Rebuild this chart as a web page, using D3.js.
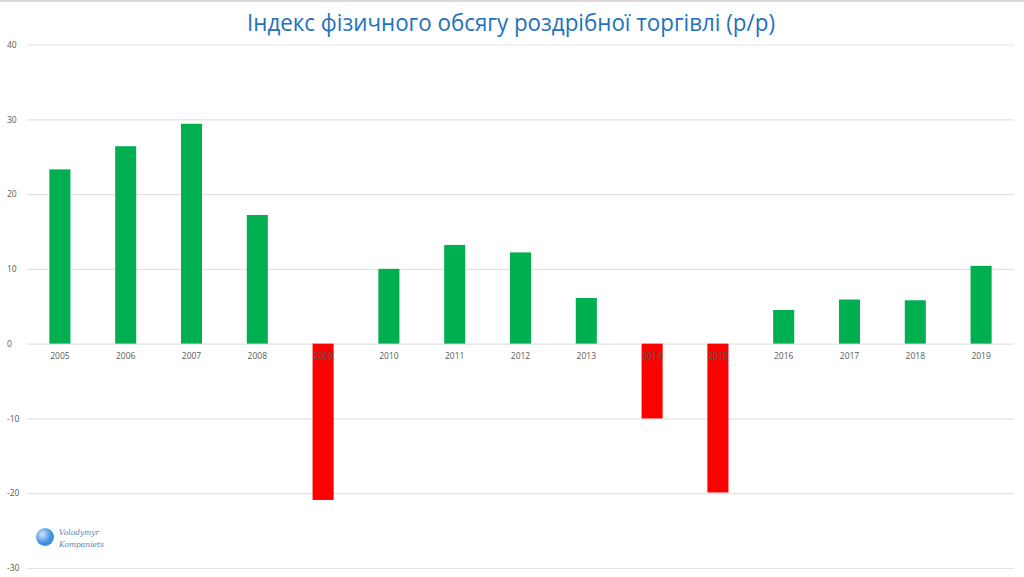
<!DOCTYPE html>
<html><head><meta charset="utf-8">
<script src="https://cdn.jsdelivr.net/npm/d3@7"></script>
<style>body{margin:0;background:#fff}svg{display:block}</style>
</head><body>
<script>
const years = ["2005","2006","2007","2008","2009","2010","2011","2012","2013","2014","2015","2016","2017","2018","2019"];
const values = [23.3,26.4,29.4,17.2,-20.9,10.0,13.2,12.2,6.1,-10.0,-19.9,4.5,5.9,5.8,10.4];
const yTicks = [-30,-20,-10,0,10,20,30,40];
const title = "Індекс фізичного обсягу роздрібної торгівлі (р/р)";

const W=1024,H=577;
const svg=d3.select("body").append("svg").attr("width",W).attr("height",H);
svg.append("line").attr("x1",0).attr("x2",W).attr("y1",1).attr("y2",1).attr("stroke","#d9d9d9").attr("stroke-width",2);

const x=d3.scaleBand().domain(years).range([27,1014]).paddingInner(0.68).paddingOuter(0.34);
const y=d3.scaleLinear().domain([-30,40]).range([568,44.5]);

svg.append("text").attr("x",511).attr("y",31).attr("text-anchor","middle")
  .attr("font-family","Open Sans, sans-serif").attr("font-size",23).attr("fill","#2272bd")
  .attr("textLength",528).attr("lengthAdjust","spacingAndGlyphs").text(title);

const ga=svg.append("g").attr("transform","translate(27,0)")
  .call(d3.axisLeft(y).tickValues(yTicks).tickSize(-987).tickPadding(10).tickFormat(d=>String(d)));
ga.select(".domain").remove();
ga.selectAll(".tick line").attr("stroke","#e3e3e3").attr("stroke-width",1.2);
ga.selectAll(".tick text").attr("font-family","Open Sans, sans-serif").attr("font-size",8.5).attr("fill","#595959").attr("text-anchor","start").attr("x",-20);

svg.append("g").selectAll("rect").data(years).join("rect")
  .attr("x",d=>x(d)).attr("width",x.bandwidth())
  .attr("y",(d,i)=>y(Math.max(0,values[i])))
  .attr("height",(d,i)=>Math.abs(y(values[i])-y(0)))
  .attr("fill",(d,i)=>values[i]>=0?"#00b050":"#ff0000");

const gx=svg.append("g").attr("transform",`translate(0,${y(0)})`)
  .call(d3.axisBottom(x).tickSize(0).tickPadding(9));
gx.select(".domain").remove();
gx.selectAll(".tick text").attr("font-family","Open Sans, sans-serif").attr("font-size",8.5).attr("fill","#595959");

// logo
const defs=svg.append("defs");
const rg=defs.append("radialGradient").attr("id","lg").attr("cx","35%").attr("cy","35%");
rg.append("stop").attr("offset","0%").attr("stop-color","#cfe6fb");
rg.append("stop").attr("offset","100%").attr("stop-color","#3d8fe0");
svg.append("circle").attr("cx",45).attr("cy",537).attr("r",9).attr("fill","url(#lg)");
svg.append("text").attr("x",59).attr("y",535).attr("font-family","DejaVu Serif, serif").attr("font-style","italic").attr("font-size",7.5).attr("fill","#5a7fb0").text("Volodymyr");
svg.append("text").attr("x",59).attr("y",547).attr("font-family","DejaVu Serif, serif").attr("font-style","italic").attr("font-size",7.5).attr("fill","#5a7fb0").text("Kompaniets");
</script>
</body></html>
